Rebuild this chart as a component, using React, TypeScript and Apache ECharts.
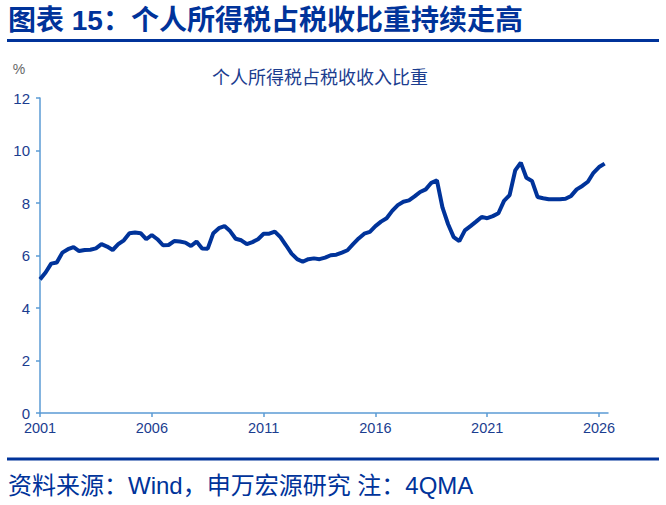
import React, { useEffect, useRef } from "react";
import * as echarts from "echarts";

const startYear = 2001;
const values2001_2005 = [5.09, 5.35, 5.69, 5.73, 6.11, 6.24, 6.32, 6.17, 6.21, 6.22, 6.27, 6.43, 6.34, 6.21, 6.43, 6.58, 6.85, 6.88, 6.85, 6.62];
const values2006_2010 = [6.78, 6.62, 6.39, 6.40, 6.55, 6.53, 6.49, 6.36, 6.53, 6.27, 6.26, 6.85, 7.04, 7.12, 6.93, 6.64, 6.58, 6.43, 6.51, 6.62];
const values2011_2015 = [6.83, 6.83, 6.91, 6.70, 6.39, 6.07, 5.86, 5.76, 5.86, 5.89, 5.86, 5.92, 6.01, 6.03, 6.11, 6.20, 6.43, 6.65, 6.83, 6.90];
const values2016_2020 = [7.12, 7.29, 7.42, 7.70, 7.92, 8.05, 8.10, 8.25, 8.42, 8.52, 8.77, 8.86, 7.82, 7.19, 6.70, 6.55, 6.96, 7.12, 7.29, 7.47];
const values2021_2026 = [7.42, 7.50, 7.61, 8.08, 8.30, 9.24, 9.54, 8.96, 8.84, 8.23, 8.18, 8.14, 8.14, 8.14, 8.16, 8.27, 8.52, 8.65, 8.81, 9.15, 9.37, 9.50];
const values = [...values2001_2005, ...values2006_2010, ...values2011_2015, ...values2016_2020, ...values2021_2026];
const xTickYears = [2001, 2006, 2011, 2016, 2021, 2026];
const yTicks = [0, 2, 4, 6, 8, 10, 12];

const pageTitle = "图表 15：个人所得税占税收比重持续走高";
const chartTitle = "个人所得税占税收收入比重";
const sourceText = "资料来源：Wind，申万宏源研究 注：4QMA";
const unitText = "%";

const DARK = "#00339a";
const LABEL = "#1b3d8f";
const AXIS = "#5b9bd5";
const FONT = "Arial, 'Liberation Sans', 'Noto Sans CJK SC', sans-serif";

export default function App() {
  const ref = useRef<HTMLDivElement>(null);
  useEffect(() => {
    if (!ref.current) return;
    const chart = echarts.init(ref.current, undefined, { renderer: "svg" });
    const data = values.map((v, i) => [startYear + i / 4, v]);
    chart.setOption({
      animation: false,
      backgroundColor: "#ffffff",
      textStyle: { fontFamily: FONT },
      graphic: [
        {
          type: "text",
          left: 8,
          top: 6,
          style: { text: pageTitle, font: `bold 28px ${FONT}`, fill: DARK },
        },
        { type: "rect", shape: { x: 7, y: 39, width: 652, height: 3 }, style: { fill: DARK } },
        {
          type: "text",
          x: 320,
          y: 78,
          style: { text: chartTitle, font: `18px ${FONT}`, fill: LABEL, align: "center", verticalAlign: "middle" },
        },
        {
          type: "text",
          x: 19,
          y: 69,
          style: { text: unitText, font: `14px ${FONT}`, fill: "#666666", align: "center", verticalAlign: "middle" },
        },
        { type: "rect", shape: { x: 7, y: 457.5, width: 652, height: 3 }, style: { fill: DARK } },
        {
          type: "text",
          x: 8,
          y: 485,
          style: { text: sourceText, font: `24px ${FONT}`, fill: DARK, verticalAlign: "middle" },
        },
      ],
      grid: { left: 40, top: 98, width: 568, height: 315, containLabel: false },
      xAxis: {
        type: "value",
        min: 2001,
        max: 2026.4,
        interval: 5,
        axisLine: { show: true, lineStyle: { color: AXIS, width: 1.5 } },
        axisTick: { show: true, length: 4, lineStyle: { color: AXIS, width: 1.5 } },
        splitLine: { show: false },
        axisLabel: {
          color: LABEL,
          fontSize: 14.5,
          margin: 8,
          showMaxLabel: false,
          formatter: (v: number) => (xTickYears.includes(Math.round(v)) ? String(Math.round(v)) : ""),
        },
      },
      yAxis: {
        type: "value",
        min: yTicks[0],
        max: yTicks[yTicks.length - 1],
        interval: 2,
        axisLine: { show: true, lineStyle: { color: AXIS, width: 1.5 } },
        axisTick: { show: true, length: 4, lineStyle: { color: AXIS, width: 1.5 } },
        splitLine: { show: false },
        axisLabel: { color: LABEL, fontSize: 15, margin: 10 },
      },
      series: [
        {
          type: "line",
          data,
          showSymbol: false,
          smooth: false,
          lineStyle: { color: DARK, width: 4 },
        },
      ],
    });
    return () => chart.dispose();
  }, []);
  return <div ref={ref} style={{ position: "fixed", left: 0, top: 0, width: 666, height: 505 }} />;
}
